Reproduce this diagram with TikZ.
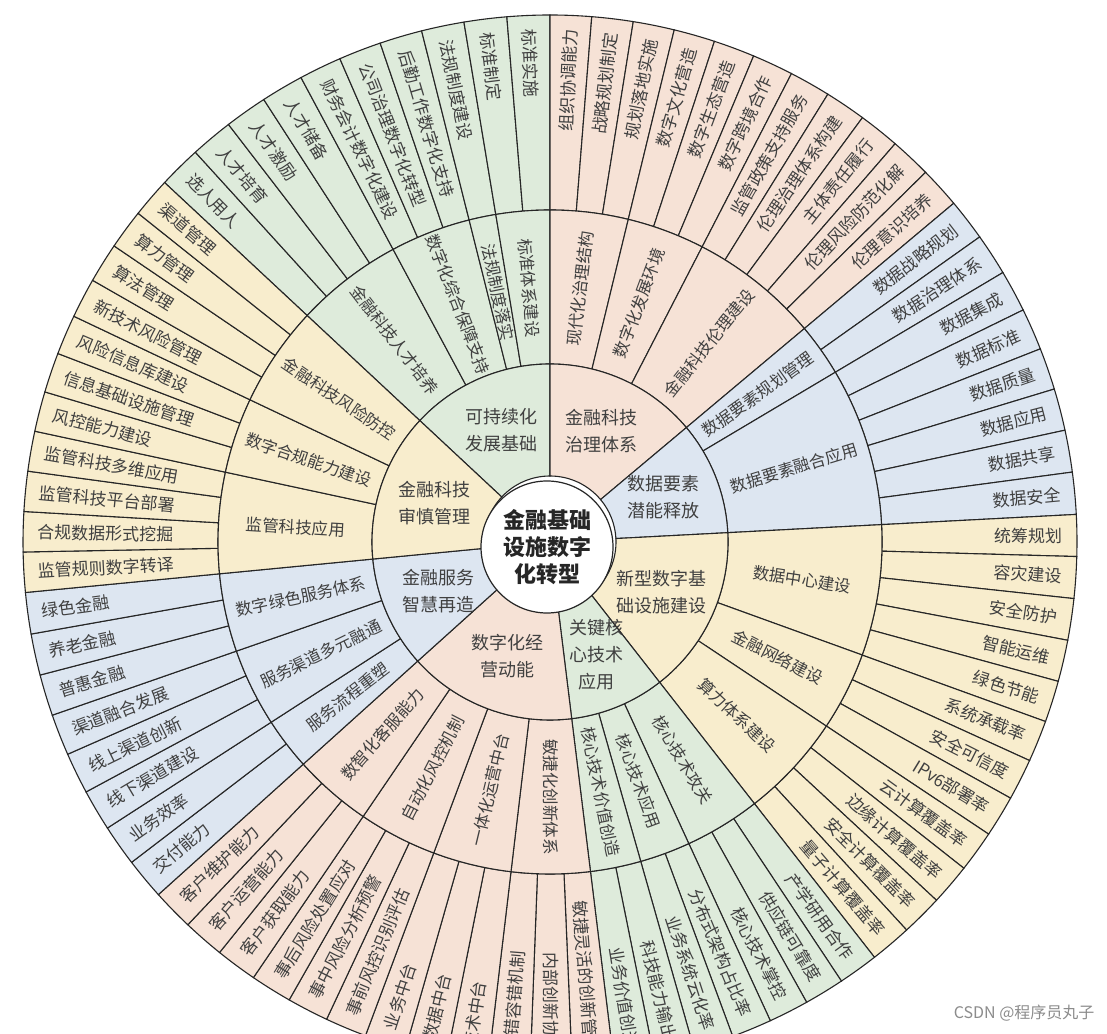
\documentclass[tikz,border=0pt]{standalone}
\usepackage{fontspec}
\setmainfont{Noto Sans CJK SC}
\definecolor{cg}{HTML}{DEEBDB}
\definecolor{cp}{HTML}{F6E2D6}
\definecolor{cb}{HTML}{DDE6F1}
\definecolor{cy}{HTML}{F8EDCD}
\def\rO{66}\def\rA{178}\def\rB{332}\def\rC{527}
\tikzset{
  ring/.style={draw=black!85,line width=1.1pt},
  leaf/.style={font=\fontsize{17}{19}\selectfont,text=black!75,inner sep=0pt},
  midt/.style={font=\fontsize{16.5}{19}\selectfont,text=black!75,inner sep=0pt},
  innt/.style={font=\fontsize{18}{27}\selectfont,text=black!75,align=center,inner sep=0pt},
}
\newcommand\leaves[6]{%
\foreach \t [count=\i] in {#6}{%
 \pgfmathsetmacro\aa{#2+(#3-#2)*(\i-1)/#5}%
 \pgfmathsetmacro\ab{#2+(#3-#2)*\i/#5}%
 \pgfmathsetmacro\am{(\aa+\ab)/2}%
 \pgfmathtruncatemacro\lf{cos(\am)<0}%
 \filldraw[ring,fill=#4] (\aa:\rB) arc[start angle=\aa,end angle=\ab,radius=\rB] -- (\ab:\rC) arc[start angle=\ab,end angle=\aa,radius=\rC] -- cycle;
 \ifnum\lf=1 \pgfmathsetmacro\rt{\am+180}\def\an{west}\else \pgfmathsetmacro\rt{\am}\def\an{east}\fi
 \node[leaf,rotate=\rt,anchor=\an] (#1-\i) at (\am:513) {\t};
}}
\newcommand\midsec[5]{%
 \pgfmathsetmacro\am{(#2+#3)/2}\pgfmathtruncatemacro\lf{cos(\am)<0}%
 \filldraw[ring,fill=#4] (#2:\rA) arc[start angle=#2,end angle=#3,radius=\rA] -- (#3:\rB) arc[start angle=#3,end angle=#2,radius=\rB] -- cycle;
 \ifnum\lf=1 \pgfmathsetmacro\rt{\am+180}\else\pgfmathsetmacro\rt{\am}\fi
 \node[midt,rotate=\rt] (#1) at (\am:255) {#5};}
\newcommand\innsec[5]{%
 \pgfmathsetmacro\am{(#2+#3)/2}%
 \filldraw[ring,fill=#4] (#2:\rO) arc[start angle=#2,end angle=#3,radius=\rO] -- (#3:\rA) arc[start angle=#3,end angle=#2,radius=\rA] -- cycle;
 \node[innt] (#1) at (\am:122) {#5};}
\begin{document}
\begin{tikzpicture}[x=1pt,y=1pt]
\useasboundingbox (0,0) rectangle (1107,1033);
\fill[white] (0,0) rectangle (1107,1033);
\begin{scope}[shift={(550,491)}]
\clip (-550,-491) rectangle (557,542);
\leaves{ga}{137}{90}{cg}{10}{选人用人,人才培育,人才激励,人才储备,财务会计数字化建设,公司治理数字化转型,后勤工作数字化支持,法规制度建设,标准制定,标准实施}
\leaves{pa}{90}{40}{cp}{11}{组织协调能力,战略规划制定,规划落地实施,数字文化营造,数字生态营造,数字跨境合作,监管政策支持服务,伦理治理体系构建,主体责任履行,伦理风险防范化解,伦理意识培养}
\leaves{ba}{40}{3}{cb}{8}{数据战略规划,数据治理体系,数据集成,数据标准,数据质量,数据应用,数据共享,数据安全}
\leaves{ya}{3}{-52}{cy}{12}{统筹规划,容灾建设,安全防护,智能运维,绿色节能,系统承载率,安全可信度,IPv6部署率,云计算覆盖率,边缘计算覆盖率,安全计算覆盖率,量子计算覆盖率}
\leaves{gb}{-52}{-83}{cg}{7}{产学研用合作,供应链可靠度,核心技术掌控,分布式架构占比率,业务系统云化率,科技能力输出,业务价值创造}
\leaves{pb}{-83}{-138}{cp}{12}{敏捷灵活的创新管理,内部创新协同,试错容错机制,技术中台,数据中台,业务中台,事前风控识别评估,事中风险分析预警,事后风险处置应对,客户获取能力,客户运营能力,客户维护能力}
\leaves{bb}{-138}{-174.5}{cb}{8}{交付能力,业务效率,线下渠道建设,线上渠道创新,渠道融合发展,普惠金融,养老金融,绿色金融}
\leaves{yb}{-174.5}{-223}{cy}{11}{监管规则数字转译,合规数据形式挖掘,监管科技平台部署,监管科技多维应用,风控能力建设,信息基础设施管理,风险信息库建设,新技术风险管理,算法管理,算力管理,渠道管理}
%
\midsec{m1}{137}{118.2}{cg}{金融科技人才培养}
\midsec{m2}{118.2}{104.1}{cg}{数字化综合保障支持}
\midsec{m3}{104.1}{99.4}{cg}{法规制度落实}
\midsec{m4}{99.4}{90}{cg}{标准体系建设}
\midsec{m5}{90}{76.36}{cp}{现代化治理结构}
\midsec{m6}{76.36}{62.73}{cp}{数字化发展环境}
\midsec{m7}{62.73}{40}{cp}{金融科技伦理建设}
\midsec{m8}{40}{30.75}{cb}{数据要素规划管理}
\midsec{m9}{30.75}{3}{cb}{数据要素融合应用}
\midsec{m10}{3}{-19.9}{cy}{数据中心建设}
\midsec{m11}{-19.9}{-33.67}{cy}{金融网络建设}
\midsec{m12}{-33.67}{-52}{cy}{算力体系建设}
\midsec{m13}{-52}{-65.29}{cg}{核心技术攻关}
\midsec{m14}{-65.29}{-74.14}{cg}{核心技术应用}
\midsec{m15}{-74.14}{-83}{cg}{核心技术价值创造}
\midsec{m16}{-83}{-96.75}{cp}{敏捷化创新体系}
\midsec{m17}{-96.75}{-110.5}{cp}{一体化运营中台}
\midsec{m18}{-110.5}{-124.25}{cp}{自动化风控机制}
\midsec{m19}{-124.25}{-138}{cp}{数智化客服能力}
\midsec{m20}{-138}{-147.125}{cb}{服务流程重塑}
\midsec{m21}{-147.125}{-160.81}{cb}{服务渠道多元融通}
\midsec{m22}{-160.81}{-174.5}{cb}{数字绿色服务体系}
\midsec{m23}{-174.5}{-192.14}{cy}{监管科技应用}
\midsec{m24}{-192.14}{-205.36}{cy}{数字合规能力建设}
\midsec{m25}{-205.36}{-223}{cy}{金融科技风险防控}
%
\innsec{i1}{137}{90}{cg}{可持续化\\发展基础}
\innsec{i2}{90}{40}{cp}{金融科技\\治理体系}
\innsec{i3}{40}{3}{cb}{数据要素\\潜能释放}
\innsec{i4}{3}{-52}{cy}{新型数字基\\础设施建设}
\innsec{i5}{-52}{-83}{cg}{关键核\\心技术\\应用}
\innsec{i6}{-83}{-138}{cp}{数字化经\\营动能}
\innsec{i7}{-138}{-174.5}{cb}{金融服务\\智慧再造}
\innsec{i8}{-174.5}{-223}{cy}{金融科技\\审慎管理}
\node[circle,draw=black!85,line width=1.2pt,fill=white,minimum size=132,inner sep=0pt,align=center,font=\fontsize{22}{27}\selectfont\bfseries,text=black!85] (c) at (-3,-5) {金融基础\\设施数字\\化转型};
\end{scope}
\node[font=\fontsize{16}{18}\selectfont,text=black!45,anchor=east] (wm) at (1098,20) {CSDN @程序员丸子};
\end{tikzpicture}
\end{document}
